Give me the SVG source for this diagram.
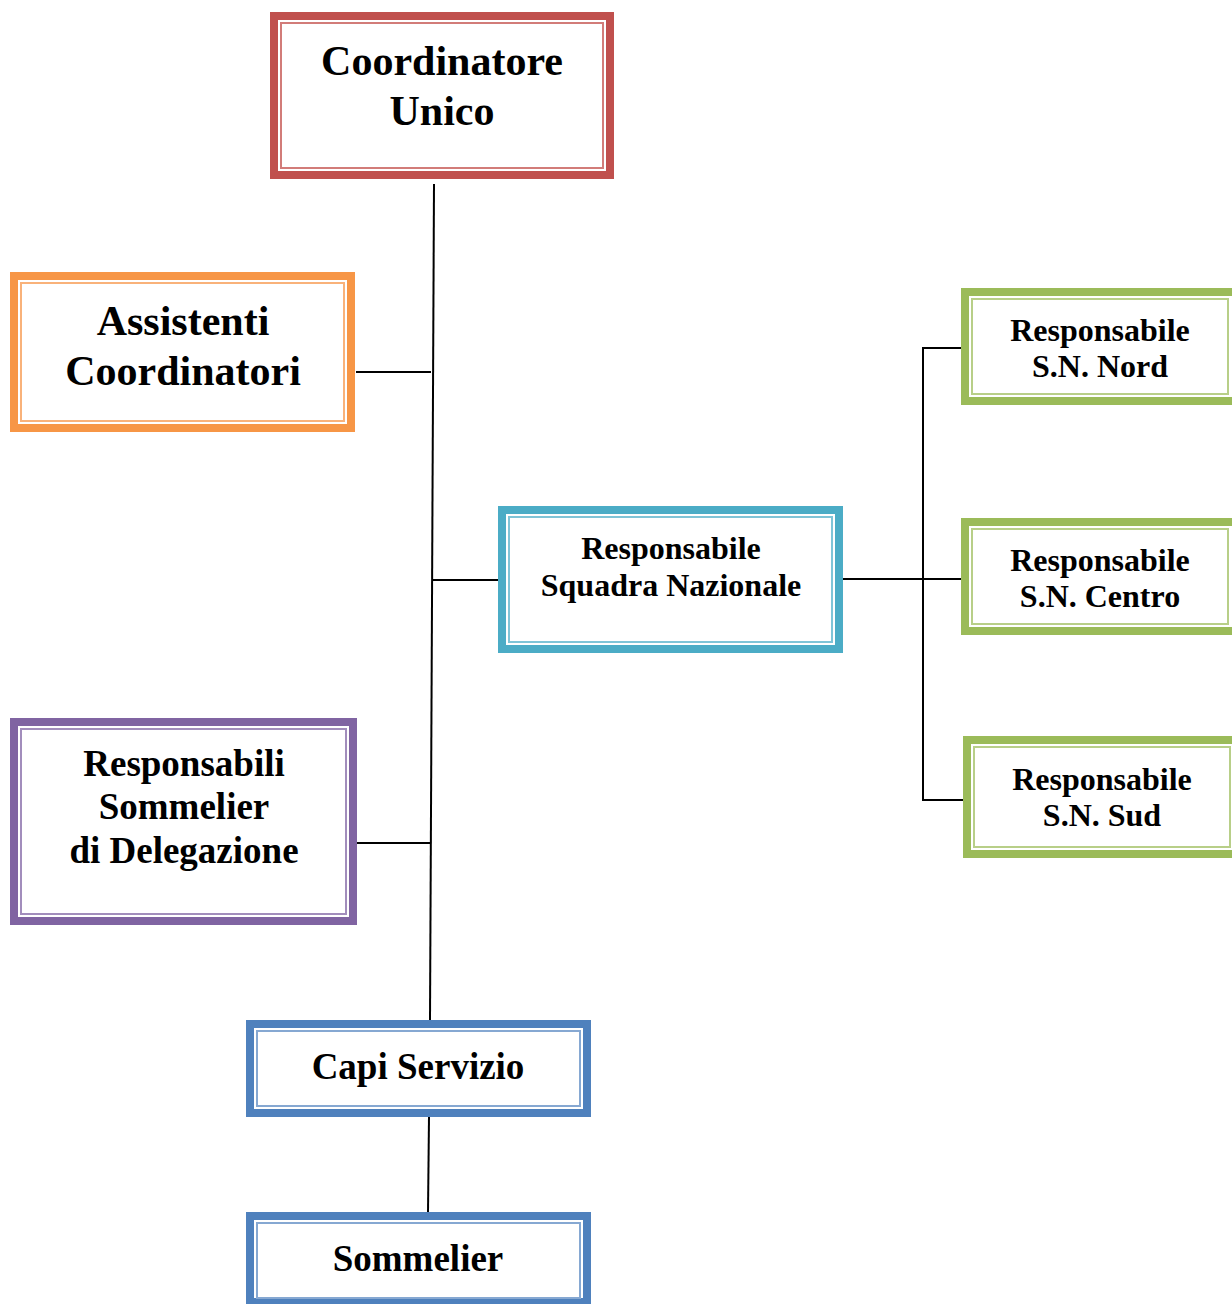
<svg xmlns="http://www.w3.org/2000/svg" width="1232" height="1304" viewBox="0 0 1232 1304">
<style>
.o{fill:#fff;stroke-width:8}
.i{fill:none;stroke-width:2}
.t{font-family:"Liberation Serif","Times New Roman",serif;font-weight:bold;fill:#000;text-anchor:middle}
.red{stroke:#C0504D}.redi{stroke:#D27C79}
.org{stroke:#F79646}.orgi{stroke:#F9B27A}
.cy{stroke:#4BACC6}.cyi{stroke:#7FC4D7}
.pu{stroke:#8064A2}.pui{stroke:#A28DBC}
.bl{stroke:#4F81BD}.bli{stroke:#86A8D2}
.gr{stroke:#9BBB59}.gri{stroke:#B8CF88}
.c{stroke:#000;stroke-width:2;fill:none}
</style>
<rect width="1232" height="1304" fill="#fff"/>
<g id="connectors">
<line class="c" x1="434" y1="184" x2="430" y2="1020"/>
<line class="c" x1="356" y1="372" x2="431" y2="372"/>
<line class="c" x1="432" y1="580" x2="498" y2="580"/>
<line class="c" x1="357" y1="843" x2="431" y2="843"/>
<line class="c" x1="429" y1="1117" x2="428" y2="1212"/>
<line class="c" x1="843" y1="579" x2="961" y2="579"/>
<polyline class="c" points="961,348 923,348 923,800 963,800"/>
</g>
<g id="coordinatore">
<rect class="o red" x="274" y="16" width="336" height="159"/>
<rect class="i redi" x="281" y="23" width="322" height="145"/>
<text class="t" x="442" y="75" font-size="42">Coordinatore</text>
<text class="t" x="442" y="125" font-size="42">Unico</text>
</g>
<g id="assistenti">
<rect class="o org" x="14" y="276" width="337" height="152"/>
<rect class="i orgi" x="21" y="283" width="323" height="138"/>
<text class="t" x="183" y="335" font-size="42">Assistenti</text>
<text class="t" x="183" y="385" font-size="42">Coordinatori</text>
</g>
<g id="squadra">
<rect class="o cy" x="502" y="510" width="337" height="139"/>
<rect class="i cyi" x="509" y="517" width="323" height="125"/>
<text class="t" x="671" y="559" font-size="32">Responsabile</text>
<text class="t" x="671" y="596" font-size="32">Squadra Nazionale</text>
</g>
<g id="delegazione">
<rect class="o pu" x="14" y="722" width="339" height="199"/>
<rect class="i pui" x="21" y="729" width="325" height="185"/>
<text class="t" x="184" y="776" font-size="37">Responsabili</text>
<text class="t" x="184" y="819" font-size="37">Sommelier</text>
<text class="t" x="184" y="863" font-size="37">di Delegazione</text>
</g>
<g id="capi">
<rect class="o bl" x="250" y="1024" width="337" height="89"/>
<rect class="i bli" x="257" y="1031" width="323" height="75"/>
<text class="t" x="418" y="1079" font-size="37">Capi Servizio</text>
</g>
<g id="sommelier">
<rect class="o bl" x="250" y="1216" width="337" height="86"/>
<rect class="i bli" x="257" y="1223" width="323" height="75"/>
<text class="t" x="418" y="1271" font-size="37">Sommelier</text>
</g>
<g id="nord">
<rect class="o gr" x="965" y="292" width="290" height="109"/>
<rect class="i gri" x="972" y="299" width="256" height="95"/>
<text class="t" x="1100" y="341" font-size="32">Responsabile</text>
<text class="t" x="1100" y="377" font-size="32">S.N. Nord</text>
</g>
<g id="centro">
<rect class="o gr" x="965" y="522" width="290" height="109"/>
<rect class="i gri" x="972" y="529" width="256" height="95"/>
<text class="t" x="1100" y="571" font-size="32">Responsabile</text>
<text class="t" x="1100" y="607" font-size="32">S.N. Centro</text>
</g>
<g id="sud">
<rect class="o gr" x="967" y="740" width="290" height="114"/>
<rect class="i gri" x="974" y="747" width="256" height="100"/>
<text class="t" x="1102" y="790" font-size="32">Responsabile</text>
<text class="t" x="1102" y="826" font-size="32">S.N. Sud</text>
</g>
</svg>
